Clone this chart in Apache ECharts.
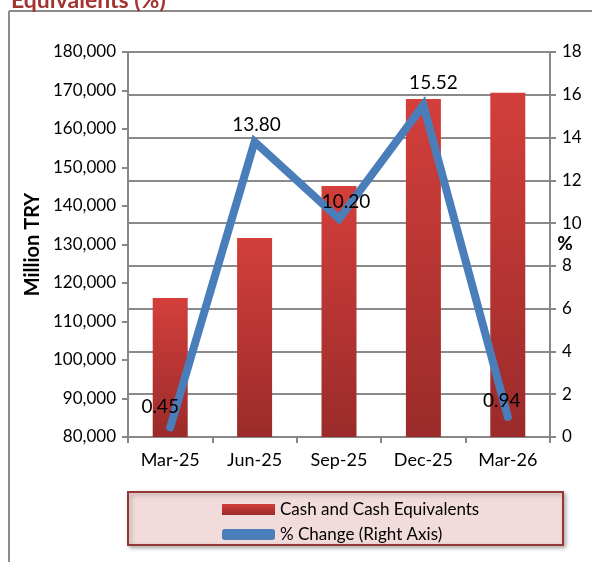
<!DOCTYPE html>
<html>
<head>
<meta charset="utf-8">
<script src="https://cdn.jsdelivr.net/npm/echarts@6/dist/echarts.min.js"></script>
<style>
  html, body { margin: 0; padding: 0; background: #fff; }
  #chart { width: 592px; height: 562px; }
</style>
</head>
<body>
<div id="chart"></div>
<script>
  var quarters = ['Mar-25', 'Jun-25', 'Sep-25', 'Dec-25', 'Mar-26'];
  var cashValues = [116100, 131700, 145200, 167800, 169400];
  var pctChange = [0.45, 13.80, 10.20, 15.52, 0.94];
  // label nudges so the numbers sit where the original has them
  var labelOffsets = [[-10, -6], [2, -2], [7, -2], [10, -8], [-6, -1]];

  var font = 'Lato, "Liberation Sans", sans-serif';
  var gray = '#878787';

  var lineData = pctChange.map(function (v, i) {
    return { value: v, label: { offset: labelOffsets[i] } };
  });

  var chartDom = document.getElementById('chart');
  var myChart = echarts.init(chartDom);
  var option = {
    animation: false,
    textStyle: { fontFamily: font },
    title: {
      text: 'Equivalents (%)',
      left: 6,
      top: -16,
      textStyle: { color: '#a33330', fontSize: 23, fontWeight: 'bold', fontFamily: font }
    },
    graphic: [
      {
        type: 'line',
        shape: { x1: 9, y1: 11, x2: 9, y2: 600 },
        style: { stroke: '#8c8c8c', lineWidth: 2 },
        z: -1
      },
      {
        type: 'line',
        shape: { x1: 9, y1: 11, x2: 600, y2: 11 },
        style: { stroke: '#8c8c8c', lineWidth: 2 },
        z: -1
      },
      {
        type: 'rect',
        shape: { x: 128, y: 492, width: 435, height: 53 },
        style: {
          fill: '#f2dcdb', stroke: '#953735', lineWidth: 2,
          shadowBlur: 4, shadowOffsetX: 2, shadowOffsetY: 2, shadowColor: 'rgba(0,0,0,0.3)'
        },
        z: 0
      },
      {
        // right axis title, sits inside the tick label column like the original
        type: 'text',
        style: {
          text: '%', x: 565, y: 244, align: 'center', verticalAlign: 'middle',
          fill: '#000', font: 'bold 19px ' + font
        },
        z: 10
      }
    ],
    grid: { left: 128, right: 42, top: 52, bottom: 125, outerBoundsMode: 'none', containLabel: false },
    legend: {
      orient: 'vertical',
      left: 217,
      top: 496,
      itemGap: 8,
      itemWidth: 53,
      itemHeight: 11,
      z: 5,
      textStyle: { fontSize: 17, color: '#000', fontFamily: font },
      data: [
        { name: 'Cash and Cash Equivalents', icon: 'rect' },
        { name: '% Change (Right Axis)', icon: 'roundRect' }
      ]
    },
    xAxis: {
      type: 'category',
      data: quarters,
      axisLine: { lineStyle: { color: gray, width: 2 } },
      axisTick: { show: true, length: 6, lineStyle: { color: gray, width: 2 } },
      axisLabel: { color: '#000', fontSize: 18, margin: 14, fontFamily: font }
    },
    yAxis: [
      {
        type: 'value',
        min: 80000,
        max: 180000,
        interval: 10000,
        name: 'Million TRY',
        nameLocation: 'middle',
        nameGap: 84,
        nameTextStyle: { fontSize: 20, fontWeight: 'bold', color: '#000', fontFamily: font },
        axisLine: { show: true, lineStyle: { color: gray, width: 2 } },
        axisTick: { show: true, length: 6, lineStyle: { color: gray, width: 2 } },
        splitLine: { show: false },
        axisLabel: {
          color: '#000', fontSize: 17, margin: 12, fontFamily: font,
          formatter: function (v) { return v.toLocaleString('en-US'); }
        }
      },
      {
        type: 'value',
        min: 0,
        max: 18,
        interval: 2,
        axisLine: { show: true, lineStyle: { color: gray, width: 2 } },
        axisTick: { show: true, length: 6, lineStyle: { color: gray, width: 2 } },
        splitLine: { show: true, lineStyle: { color: '#8a8a8a', width: 2 } },
        axisLabel: { color: '#000', fontSize: 17, margin: 12, fontFamily: font }
      }
    ],
    series: [
      {
        name: 'Cash and Cash Equivalents',
        type: 'bar',
        yAxisIndex: 0,
        barWidth: 35,
        data: cashValues,
        itemStyle: {
          color: new echarts.graphic.LinearGradient(0, 0, 0, 1, [
            { offset: 0, color: '#d33f3b' },
            { offset: 1, color: '#9a2b2a' }
          ])
        }
      },
      {
        name: '% Change (Right Axis)',
        type: 'line',
        yAxisIndex: 1,
        data: lineData,
        showSymbol: true,
        symbol: 'circle',
        symbolSize: 0.1,
        color: '#4a7ebb',
        lineStyle: { color: '#4a7ebb', width: 8, cap: 'round', join: 'miter' },
        label: {
          show: true,
          position: 'top',
          color: '#000',
          fontSize: 19,
          fontFamily: font,
          formatter: function (p) { return p.value.toFixed(2); }
        },
        z: 3
      }
    ]
  };
  option && myChart.setOption(option);
</script>
</body>
</html>
